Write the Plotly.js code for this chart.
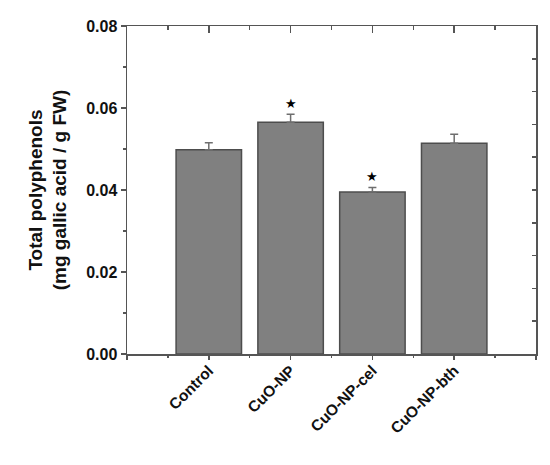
<!DOCTYPE html>
<html>
<head>
<meta charset="utf-8">
<script src="https://cdn.plot.ly/plotly-3.0.1.min.js"></script>
<style>html,body{margin:0;padding:0;background:#fff;}#chart{width:550px;height:465px;}</style>
</head>
<body>
<div id="chart"></div>
<script>
// Data
const categories = ['Control', 'CuO-NP', 'CuO-NP-cel', 'CuO-NP-bth'];
const values = [0.0498, 0.0565, 0.0395, 0.0514];
const errors = [0.0017, 0.0020, 0.0011, 0.0022];
const significant = [false, true, true, false];
const yTickVals = [0, 0.02, 0.04, 0.06, 0.08];

const FONT = 'Liberation Sans, Arial, sans-serif';
const axisColor = '#555555';

const bars = {
  type: 'bar',
  x: categories,
  y: values,
  width: 0.8,
  marker: {color: '#808080', line: {color: '#4d4d4d', width: 1.5}},
  error_y: {type: 'data', array: errors, arrayminus: errors.map(() => 0), symmetric: false,
            color: '#6e6e6e', thickness: 1.5, width: 4},
  hoverinfo: 'skip'
};
// helper traces to bind the frame axes
const helperTop = {type: 'scatter', x: [], y: [], xaxis: 'x2', yaxis: 'y', showlegend: false};
const helperBottom = {type: 'scatter', x: [], y: [], xaxis: 'x3', yaxis: 'y', showlegend: false};
const helperRight = {type: 'scatter', x: [], y: [], xaxis: 'x', yaxis: 'y2', showlegend: false};

const annotations = [];
categories.forEach((c, i) => {
  if (significant[i]) {
    annotations.push({x: c, y: values[i] + errors[i], xref: 'x', yref: 'y', text: '★',
      showarrow: false, yshift: 11, font: {family: 'DejaVu Sans', size: 13, color: '#000'}});
  }
});

const layout = {
  width: 550, height: 465,
  margin: {l: 127, r: 14, t: 26, b: 111},
  paper_bgcolor: '#ffffff', plot_bgcolor: '#ffffff',
  showlegend: false,
  bargap: 0.2,
  xaxis: {
    type: 'category', range: [-1, 4], showline: true, linecolor: axisColor, linewidth: 1.5,
    ticks: '', tickangle: -45, showgrid: false, zeroline: false,
    tickfont: {family: FONT, size: 15.5, weight: 'bold', color: '#111'}
  },
  xaxis3: {
    overlaying: 'x', side: 'bottom', type: 'linear', range: [-1, 4], showline: false,
    tickmode: 'linear', tick0: 0, dtick: 1, ticks: 'outside', ticklen: 5, tickwidth: 1.5, tickcolor: axisColor,
    minor: {ticks: 'outside', ticklen: 3, tickwidth: 1.5, tickcolor: axisColor, dtick: 0.5, tick0: 0, showgrid: false},
    showticklabels: false, showgrid: false, zeroline: false
  },
  xaxis2: {
    overlaying: 'x', side: 'top', type: 'linear', range: [-1, 4], showline: true, linecolor: axisColor, linewidth: 1.5,
    tickmode: 'linear', tick0: 0, dtick: 1, ticks: 'inside', ticklen: 7, tickwidth: 1.5, tickcolor: axisColor,
    minor: {ticks: 'inside', ticklen: 4, tickwidth: 1.5, tickcolor: axisColor, dtick: 0.5, tick0: 0, showgrid: false},
    showticklabels: false, showgrid: false, zeroline: false
  },
  yaxis: {
    range: [0, 0.08], tickvals: yTickVals, tickformat: '.2f', ticks: 'outside', ticklen: 5, tickwidth: 1.5,
    tickcolor: axisColor, showline: true, linecolor: axisColor, linewidth: 1.5, showgrid: false, zeroline: false,
    minor: {ticks: 'outside', ticklen: 3, tickwidth: 1.5, tickcolor: axisColor, dtick: 0.01, tick0: 0, showgrid: false},
    tickfont: {family: FONT, size: 16, weight: 'bold', color: '#111'},
    title: {text: 'Total polyphenols<br>(mg gallic acid / g FW)', standoff: 14,
            font: {family: FONT, size: 19, weight: 'bold', color: '#111'}}
  },
  yaxis2: {
    overlaying: 'y', side: 'right', range: [0, 0.08], tickmode: 'linear', tick0: 0, dtick: 0.008,
    ticks: 'inside', ticklen: 4, tickwidth: 1.5, tickcolor: axisColor, showline: true, linecolor: axisColor,
    linewidth: 1.5, showticklabels: false, showgrid: false, zeroline: false
  },
  annotations: annotations
};

Plotly.newPlot('chart', [bars, helperTop, helperBottom, helperRight], layout, {displayModeBar: false, staticPlot: true});
</script>
</body>
</html>
